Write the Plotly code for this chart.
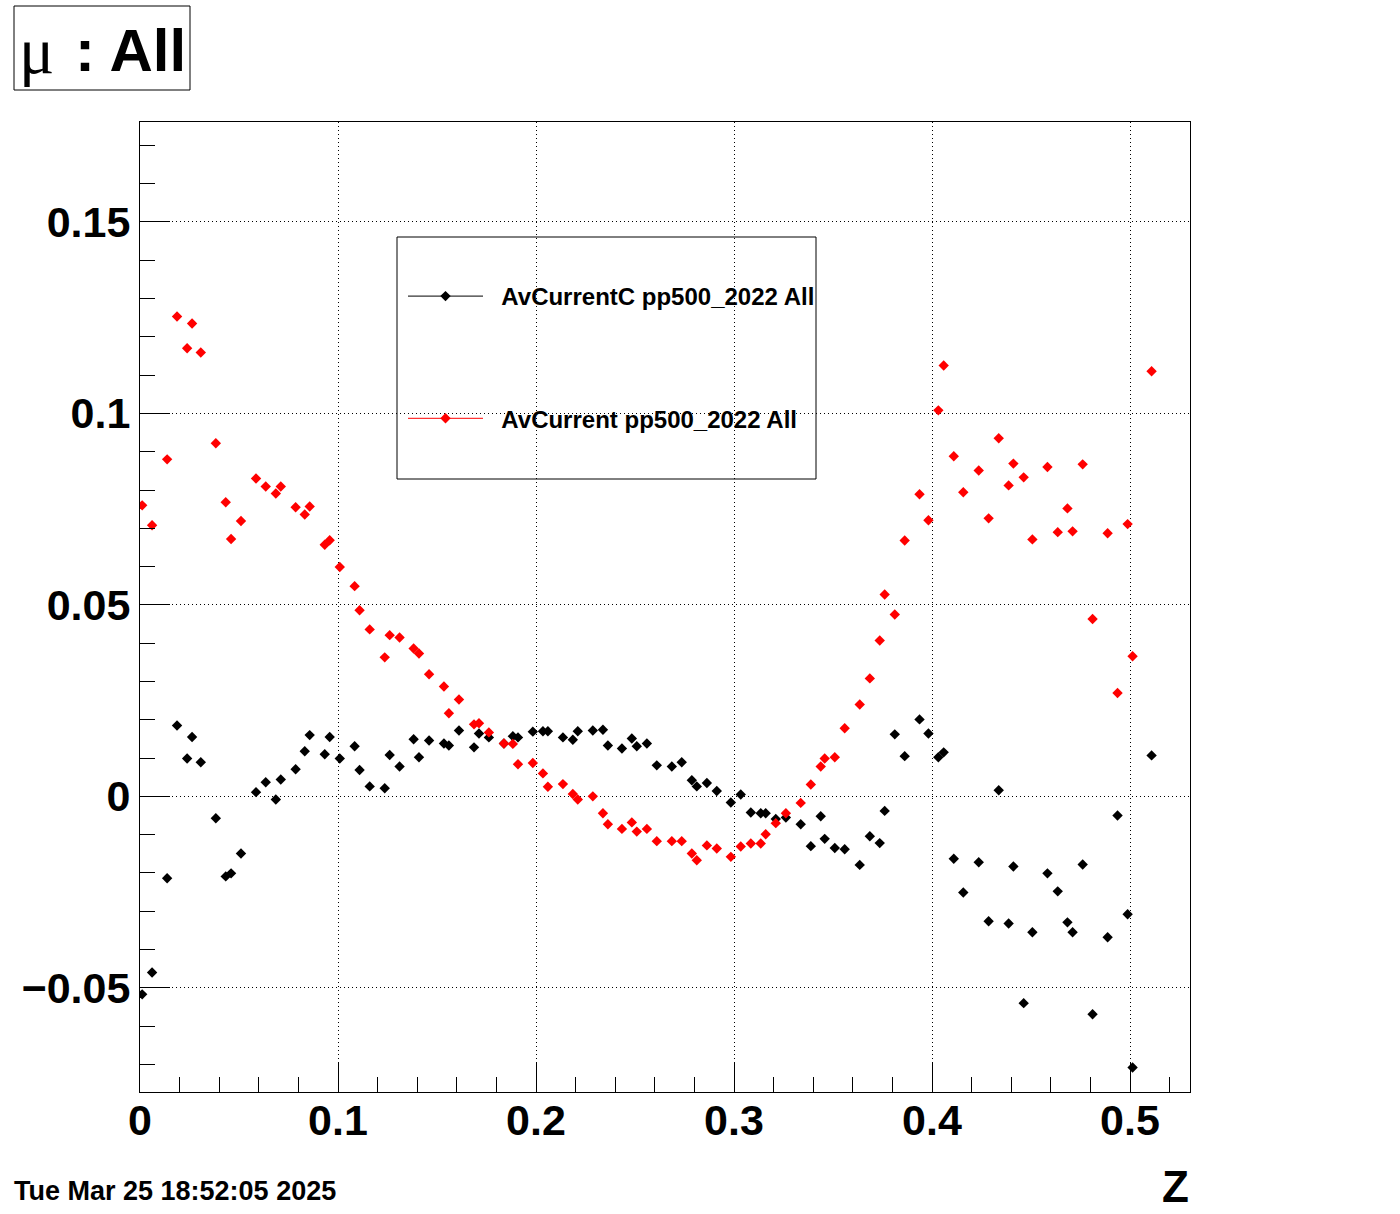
import plotly.graph_objects as go

# ---------------- data ----------------
z_vals = [0.0011, 0.0061, 0.0137, 0.0187, 0.0238, 0.0263, 0.0307, 0.0383, 0.0433, 0.0460,
          0.0510, 0.0586, 0.0635, 0.0686, 0.0711, 0.0786, 0.0832, 0.0857, 0.0933, 0.0958,
          0.1009, 0.1084, 0.1109, 0.1160, 0.1236, 0.1261, 0.1311, 0.1382, 0.1409, 0.1460,
          0.1535, 0.1560, 0.1611, 0.1687, 0.1712, 0.1762, 0.1838, 0.1883, 0.1909, 0.1984,
          0.2035, 0.2060, 0.2136, 0.2186, 0.2211, 0.2287, 0.2338, 0.2363, 0.2434, 0.2484,
          0.2509, 0.2560, 0.2610, 0.2686, 0.2736, 0.2787, 0.2812, 0.2863, 0.2913, 0.2984,
          0.3034, 0.3085, 0.3135, 0.3160, 0.3211, 0.3262, 0.3337, 0.3388, 0.3438, 0.3458,
          0.3509, 0.3559, 0.3635, 0.3686, 0.3736, 0.3761, 0.3812, 0.3862, 0.3937, 0.3982,
          0.4032, 0.4059, 0.4110, 0.4158, 0.4236, 0.4286, 0.4337, 0.4387, 0.4411, 0.4463,
          0.4507, 0.4583, 0.4635, 0.4684, 0.4710, 0.4761, 0.4811, 0.4887, 0.4937, 0.4988,
          0.5013, 0.5109]

av_current_c = [-0.0517, -0.0460, -0.0214, 0.0185, 0.0099, 0.0155, 0.0089, -0.0057, -0.0209, -0.0201,
                -0.0149, 0.0011, 0.0037, -0.0008, 0.0044, 0.0071, 0.0118, 0.0160, 0.0110, 0.0155,
                0.0099, 0.0131, 0.0069, 0.0026, 0.0021, 0.0108, 0.0078, 0.0149, 0.0102, 0.0146,
                0.0138, 0.0133, 0.0172, 0.0128, 0.0164, 0.0154, 0.0138, 0.0157, 0.0154, 0.0169,
                0.0170, 0.0170, 0.0154, 0.0148, 0.0170, 0.0172, 0.0174, 0.0133, 0.0125, 0.0151,
                0.0131, 0.0138, 0.0081, 0.0078, 0.0089, 0.0042, 0.0026, 0.0035, 0.0014, -0.0016,
                0.0005, -0.0042, -0.0044, -0.0044, -0.0059, -0.0055, -0.0073, -0.0130, -0.0052, -0.0111,
                -0.0135, -0.0138, -0.0179, -0.0104, -0.0122, -0.0038, 0.0162, 0.0105, 0.0201, 0.0164,
                0.0102, 0.0115, -0.0163, -0.0251, -0.0172, -0.0326, 0.0016, -0.0332, -0.0183, -0.0540,
                -0.0355, -0.0201, -0.0248, -0.0329, -0.0355, -0.0178, -0.0569, -0.0368, -0.0050, -0.0308,
                -0.0708, 0.0107]

av_current = [0.0760, 0.0708, 0.0880, 0.1253, 0.1170, 0.1235, 0.1159, 0.0922, 0.0768, 0.0672,
              0.0719, 0.0830, 0.0809, 0.0791, 0.0809, 0.0755, 0.0736, 0.0757, 0.0657, 0.0669,
              0.0599, 0.0549, 0.0486, 0.0436, 0.0363, 0.0421, 0.0415, 0.0386, 0.0373, 0.0319,
              0.0287, 0.0217, 0.0253, 0.0188, 0.0191, 0.0167, 0.0138, 0.0137, 0.0084, 0.0087,
              0.0060, 0.0025, 0.0032, 0.0006, -0.0008, 0.0000, -0.0044, -0.0073, -0.0085, -0.0068,
              -0.0092, -0.0085, -0.0117, -0.0117, -0.0117, -0.0149, -0.0167, -0.0128, -0.0136, -0.0158,
              -0.0131, -0.0123, -0.0123, -0.0099, -0.0070, -0.0044, -0.0017, 0.0031, 0.0078, 0.0099,
              0.0102, 0.0178, 0.0240, 0.0308, 0.0407, 0.0527, 0.0475, 0.0668, 0.0789, 0.0721,
              0.1008, 0.1125, 0.0888, 0.0794, 0.0851, 0.0726, 0.0935, 0.0812, 0.0869, 0.0833,
              0.0671, 0.0860, 0.0690, 0.0752, 0.0692, 0.0867, 0.0463, 0.0687, 0.0270, 0.0711,
              0.0366, 0.1110]

series_names = ["AvCurrentC pp500_2022 All", "AvCurrent pp500_2022 All"]
x_tick_vals = [0, 0.1, 0.2, 0.3, 0.4, 0.5]
x_tick_text = ["0", "0.1", "0.2", "0.3", "0.4", "0.5"]
y_tick_vals = [-0.05, 0, 0.05, 0.1, 0.15]
y_tick_text = ["\u22120.05", "0", "0.05", "0.1", "0.15"]
title_text = ": All"
date_text = "Tue Mar 25 18:52:05 2025"
x_title = "Z"

# ---------------- layout geometry ----------------
W, H = 1400, 1214
L, R, T, B = 140, 1190, 122, 1092


def pxp(x, y):
    return (x - L) / (R - L), (B - y) / (B - T)


FONT = "Liberation Sans"
fig = go.Figure()

mk = dict(symbol="diamond", size=8, line=dict(width=0))
fig.add_trace(go.Scatter(x=z_vals, y=av_current_c, mode="markers",
                         marker=dict(color="black", **mk), showlegend=False))
fig.add_trace(go.Scatter(x=z_vals, y=av_current, mode="markers",
                         marker=dict(color="red", **mk), showlegend=False))
# legend entries (line + marker)
NB = "\u00a0\u00a0"
fig.add_trace(go.Scatter(x=[None], y=[None], mode="lines+markers", name=NB + series_names[0],
                         legendgroup="a", line=dict(color="black", width=1),
                         marker=dict(color="black", **mk)))
fig.add_trace(go.Scatter(x=[None], y=[None], mode="lines+markers", name=NB + series_names[1],
                         legendgroup="b", line=dict(color="red", width=1),
                         marker=dict(color="red", **mk)))

axis_common = dict(
    showline=True, linecolor="black", linewidth=1, mirror=True,
    ticks="inside", ticklen=30, tickwidth=1, tickcolor="black",
    showgrid=True, gridcolor="black", griddash="1px,3px", gridwidth=1,
    zeroline=False,
    tickfont=dict(family=FONT, size=43, color="black", weight="bold"),
)

fig.update_xaxes(range=[0, 0.5303], tickvals=x_tick_vals, ticktext=x_tick_text,
                 ticklabelstandoff=-10,
                 minor=dict(ticks="inside", ticklen=15, dtick=0.02, tick0=0, tickcolor="black",
                            showgrid=False),
                 **axis_common)
fig.update_yaxes(range=[-0.0772, 0.1761], tickvals=y_tick_vals, ticktext=y_tick_text,
                 minor=dict(ticks="inside", ticklen=15, dtick=0.01, tick0=0, tickcolor="black",
                            showgrid=False),
                 **axis_common)

shapes = []
# title box
x0, y0 = pxp(14, 90)
x1, y1 = pxp(190, 6)
shapes.append(dict(type="rect", xref="paper", yref="paper", x0=x0, y0=y0, x1=x1, y1=y1,
                   line=dict(color="black", width=1), fillcolor="white", layer="above"))
# legend box
x0, y0 = pxp(397, 479)
x1, y1 = pxp(816, 237)
shapes.append(dict(type="rect", xref="paper", yref="paper", x0=x0, y0=y0, x1=x1, y1=y1,
                   line=dict(color="black", width=1), fillcolor="white", layer="below"))

annotations = []
ax, ay = pxp(36, 50)
annotations.append(dict(text="\u03bc", xref="paper", yref="paper", x=ax, y=ay,
                        xanchor="center", yanchor="middle", showarrow=False,
                        font=dict(family="Liberation Serif", size=66, color="black")))
ax, ay = pxp(73, 50)
annotations.append(dict(text=title_text, xref="paper", yref="paper", x=ax, y=ay,
                        xanchor="left", yanchor="middle", showarrow=False,
                        font=dict(family=FONT, size=60, color="black", weight="bold")))
ax, ay = pxp(12, 1191)
annotations.append(dict(text=date_text, xref="paper", yref="paper", x=ax, y=ay,
                        xanchor="left", yanchor="middle", showarrow=False,
                        font=dict(family=FONT, size=27, color="black", weight="bold")))
ax, ay = pxp(1191, 1186)
annotations.append(dict(text=x_title, xref="paper", yref="paper", x=ax, y=ay,
                        xanchor="right", yanchor="middle", showarrow=False,
                        font=dict(family=FONT, size=44, color="black", weight="bold")))

lx, ly = pxp(403, 274)
fig.update_layout(
    width=W, height=H,
    margin=dict(l=L, r=W - R, t=T, b=H - B, pad=0),
    paper_bgcolor="white", plot_bgcolor="white",
    shapes=shapes, annotations=annotations,
    showlegend=True,
    legend=dict(x=lx, y=ly, xanchor="left", yanchor="top",
                bgcolor="rgba(0,0,0,0)", borderwidth=0,
                font=dict(family=FONT, size=24, color="black", weight="bold"),
                itemwidth=75, traceorder="grouped", tracegroupgap=88),
)

fig.write_html("out.html", config={"displayModeBar": False},
               post_script="document.body.style.margin='0px';")
